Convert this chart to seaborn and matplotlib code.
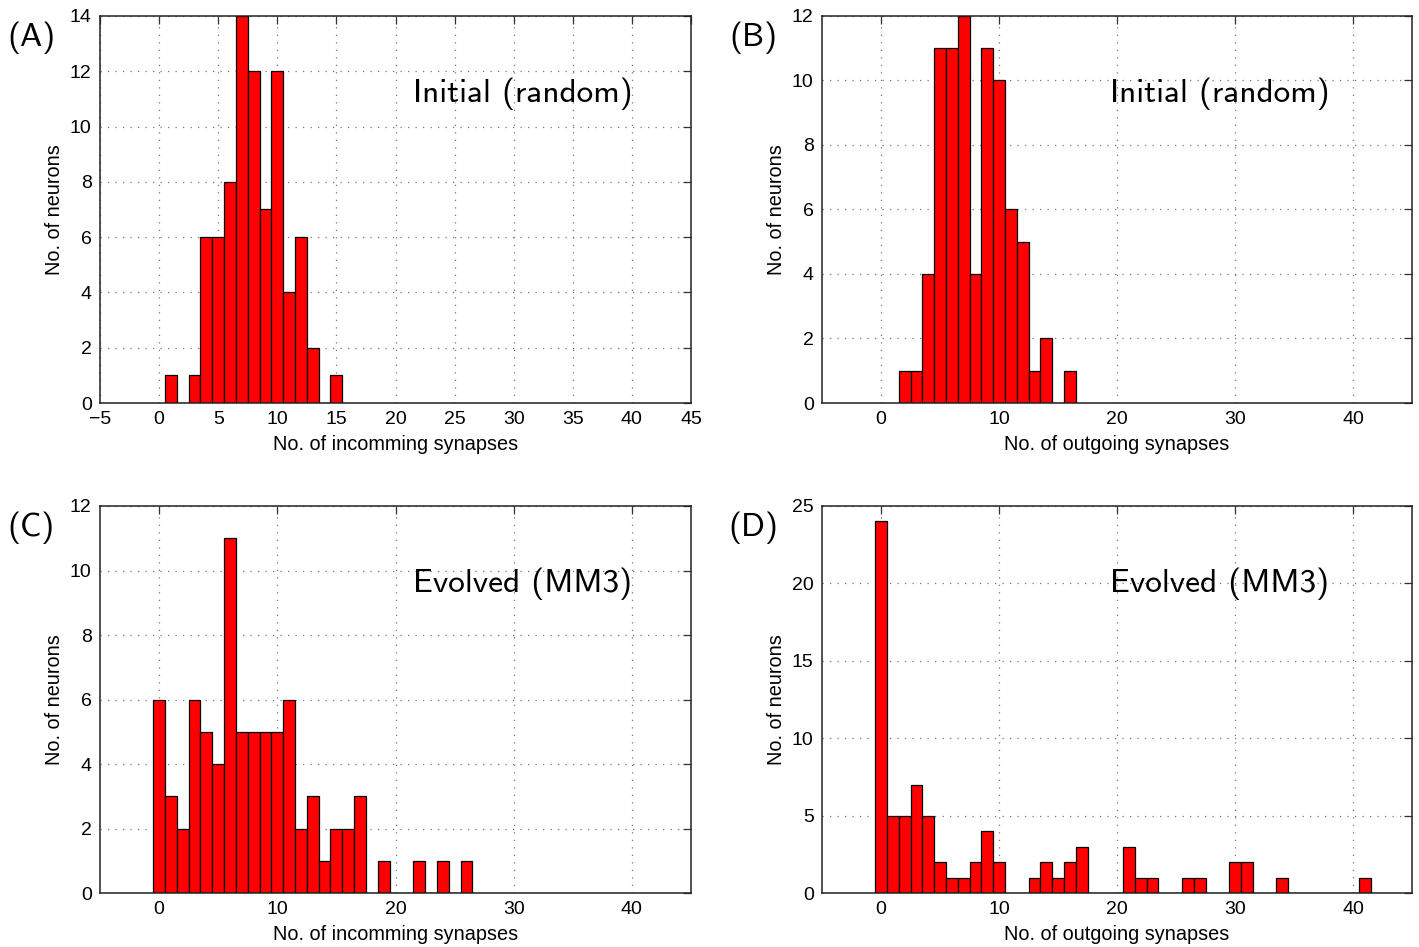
import numpy as np
import pandas as pd
import matplotlib
matplotlib.use("Agg")
import matplotlib.pyplot as plt
import seaborn as sns

# Degree histograms (bin centre -> number of neurons)
in_init_deg = [1, 2, 3, 4, 5, 6, 7, 8, 9, 10, 11, 12, 13, 14, 15]
in_init_cnt = [1, 0, 1, 6, 6, 8, 14, 12, 7, 12, 4, 6, 2, 0, 1]

out_init_deg = [2, 3, 4, 5, 6, 7, 8, 9, 10, 11, 12, 13, 14, 15, 16]
out_init_cnt = [1, 1, 4, 11, 11, 12, 4, 11, 10, 6, 5, 1, 2, 0, 1]

in_evol_deg = list(range(0, 27))
in_evol_cnt = [6, 3, 2, 6, 5, 4, 11, 5, 5, 5, 5, 6, 2, 3, 1, 2, 2, 3,
               0, 1, 0, 0, 1, 0, 1, 0, 1]

out_evol_deg = list(range(0, 42))
out_evol_cnt = [24, 5, 5, 7, 5, 2, 1, 1, 2, 4, 2, 0, 0, 1, 2, 1, 2, 3,
                0, 0, 0, 3, 1, 1, 0, 0, 1, 1, 0, 0, 2, 2, 0, 0, 1, 0,
                0, 0, 0, 0, 0, 1]

panel_tags = ["(A)", "(B)", "(C)", "(D)"]
panel_notes = ["Initial (random)", "Initial (random)", "Evolved (MM3)", "Evolved (MM3)"]
x_labels = ["No. of incomming synapses", "No. of outgoing synapses",
            "No. of incomming synapses", "No. of outgoing synapses"]
y_label = "No. of neurons"
y_limits = [14, 12, 12, 25]
y_steps = [2, 2, 2, 5]
x_steps = [5, 10, 10, 10]
note_x = [0.53, 0.488, 0.53, 0.488]

sns.set_style("white")
plt.rcParams["font.family"] = ["Liberation Sans", "DejaVu Sans"]
plt.rcParams.update({"text.color": "black", "axes.labelcolor": "black",
                     "xtick.color": "black", "ytick.color": "black"})

W, H = 1419, 947
fig = plt.figure(figsize=(W / 100, H / 100), dpi=100)

boxes = [(100, 16, 691, 403), (822, 16, 1412, 403),
         (100, 506, 691, 893), (822, 506, 1412, 893)]
series = [(in_init_deg, in_init_cnt), (out_init_deg, out_init_cnt),
          (in_evol_deg, in_evol_cnt), (out_evol_deg, out_evol_cnt)]

for i, ((x0, y0, x1, y1), (deg, cnt)) in enumerate(zip(boxes, series)):
    ax = fig.add_axes([x0 / W, 1 - y1 / H, (x1 - x0) / W, (y1 - y0) / H])
    df = pd.DataFrame({"degree": deg, "count": cnt})
    sns.histplot(data=df, x="degree", weights="count", discrete=True,
                 shrink=1, color="#ff0000", alpha=1, edgecolor="black",
                 linewidth=0.9, ax=ax, zorder=3)
    ax.set_xlim(-5, 45)
    ax.set_ylim(0, y_limits[i])
    ax.set_xticks(np.arange(-5 if x_steps[i] == 5 else 0, 46, x_steps[i]))
    ax.set_yticks(np.arange(0, y_limits[i] + 0.1, y_steps[i]))
    ax.grid(True, linestyle=(0, (1, 5)), color="#777777", linewidth=0.9, zorder=0)
    ax.set_axisbelow(True)
    ax.tick_params(direction="in", length=6, width=0.9, labelsize=14,
                   top=True, right=True, color="#333333", pad=6)
    for s in ax.spines.values():
        s.set_color("#222222")
        s.set_linewidth(1.1)
        s.set_visible(True)
        s.set_zorder(5)
    ax.set_xlabel(x_labels[i], fontsize=14.3, labelpad=5)
    ax.set_ylabel(y_label, fontsize=14.3, labelpad=4)
    ax.text(note_x[i], 0.80, panel_notes[i], transform=ax.transAxes,
            fontsize=24, family="cmss10", ha="left", va="center")
    fig.text((x0 - 69) / W, 1 - (y0 + 22) / H, panel_tags[i],
             fontsize=24, family="cmss10", ha="center", va="center")

fig.savefig("out.png", dpi=100)
